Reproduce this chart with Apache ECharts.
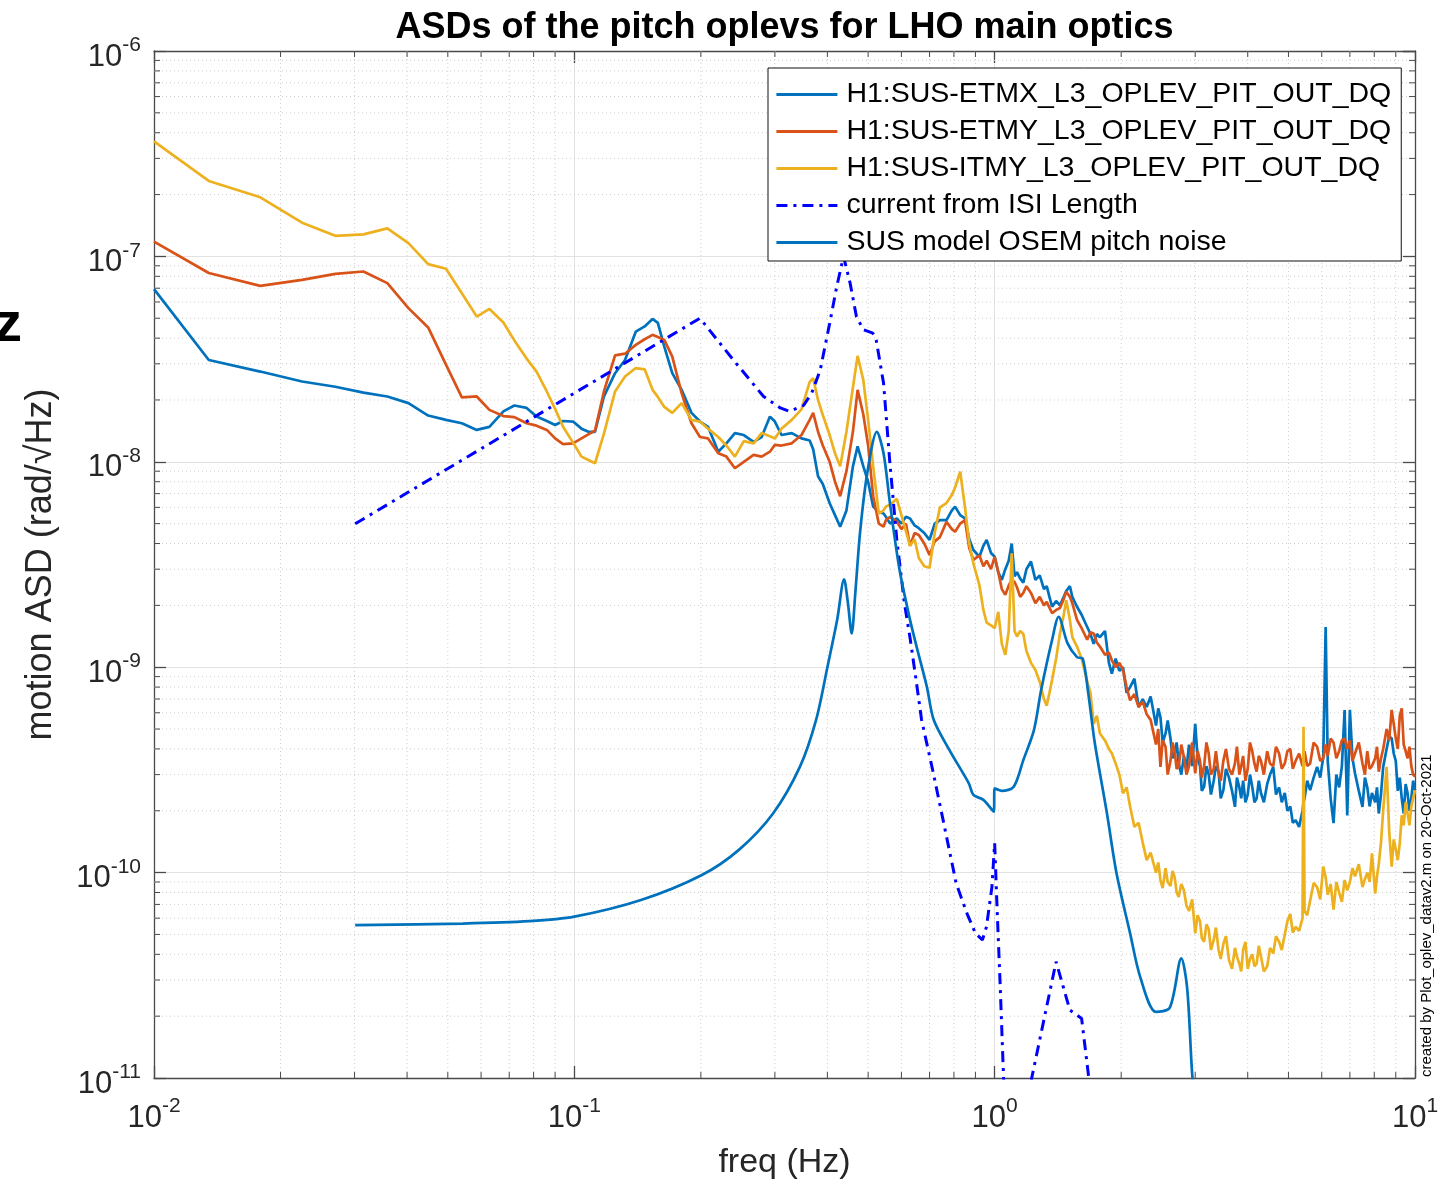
<!DOCTYPE html>
<html>
<head>
<meta charset="utf-8">
<script src="https://cdn.jsdelivr.net/npm/echarts@6/dist/echarts.min.js"></script>
<style>
html,body{margin:0;padding:0;background:#fff;}
#chart{width:1449px;height:1182px;}
</style>
</head>
<body>
<div id="chart"></div>
<script>
// ---------------- DATA ----------------
const seriesNames = [
  'H1:SUS-ETMX_L3_OPLEV_PIT_OUT_DQ',
  'H1:SUS-ETMY_L3_OPLEV_PIT_OUT_DQ',
  'H1:SUS-ITMY_L3_OPLEV_PIT_OUT_DQ',
  'current from ISI Length',
  'SUS model OSEM pitch noise'
];

// common frequency bins (Hz) of the three oplev spectra
const freqHz = [
  0.0100, 0.0135, 0.0179, 0.0225, 0.0270, 0.0315, 0.0359, 0.0403, 0.0449, 0.0495,
  0.0540, 0.0586, 0.0628, 0.0678, 0.0720, 0.0770, 0.0813, 0.0860, 0.0900, 0.0940,
  0.0993, 0.1040, 0.1080, 0.1120, 0.1176, 0.1250, 0.1320, 0.1400, 0.1470, 0.1535,
  0.1580, 0.1637, 0.1710, 0.1800, 0.1900, 0.1990, 0.2080, 0.2200, 0.2300, 0.2410,
  0.2530, 0.2670, 0.2790, 0.2920, 0.3000, 0.3110, 0.3290, 0.3470, 0.3630, 0.3700,
  0.3800, 0.3900, 0.4050, 0.4170, 0.4290, 0.4440, 0.4600, 0.4720, 0.4870, 0.5000,
  0.5140, 0.5300, 0.5440, 0.5510, 0.5640, 0.5850, 0.6000, 0.6150, 0.6290, 0.6450,
  0.6600, 0.6800, 0.7000, 0.7200, 0.7410, 0.7680, 0.7910, 0.8050, 0.8280, 0.8500,
  0.8700, 0.8900, 0.9200, 0.9400, 0.9570, 0.9800, 1.0000, 1.0200, 1.0400, 1.0600,
  1.0800, 1.0980, 1.1150, 1.1300, 1.1500, 1.1700, 1.1900, 1.2200, 1.2500, 1.2800,
  1.3100, 1.3300, 1.3500, 1.3700, 1.4000, 1.4300, 1.4600, 1.4800, 1.5100, 1.5300,
  1.5700, 1.6100, 1.6600, 1.6900, 1.7200, 1.7500, 1.7800, 1.8300, 1.8700, 1.9000,
  1.9400, 1.9800, 2.0200, 2.0600, 2.1000, 2.1500, 2.2000, 2.2500, 2.3000, 2.3500,
  2.42, 2.45, 2.48, 2.51, 2.55, 2.58, 2.62, 2.65, 2.68, 2.71,
  2.74, 2.78, 2.82, 2.86, 2.90, 2.95, 3.00, 3.04, 3.08, 3.11,
  3.15, 3.19, 3.23, 3.27, 3.32, 3.36, 3.41, 3.45, 3.50, 3.55,
  3.61, 3.67, 3.73, 3.77, 3.82, 3.86, 3.90, 3.95, 4.00, 4.05,
  4.10, 4.15, 4.20, 4.25, 4.30, 4.37, 4.45, 4.52, 4.60, 4.67,
  4.75, 4.82, 4.90, 4.97, 5.05, 5.12, 5.20, 5.30, 5.40, 5.43,
  5.46, 5.54, 5.63, 5.74, 5.85, 5.95, 6.05, 6.13, 6.20, 6.30,
  6.40, 6.50, 6.60, 6.70, 6.80, 6.90, 7.00, 7.10, 7.20, 7.35,
  7.50, 7.60, 7.70, 7.80, 7.90, 8.04, 8.12, 8.20, 8.30, 8.40,
  8.56, 8.68, 8.80, 8.90, 9.00, 9.10, 9.20, 9.30, 9.40, 9.50,
  9.60, 9.70, 9.80, 9.90, 10.0
];

// rad/sqrt(Hz)
const etmxAsd = [
  6.93e-8, 3.13e-8, 2.75e-8, 2.46e-8, 2.32e-8, 2.17e-8, 2.08e-8, 1.93e-8, 1.68e-8, 1.60e-8,
  1.54e-8, 1.43e-8, 1.48e-8, 1.76e-8, 1.88e-8, 1.83e-8, 1.66e-8, 1.58e-8, 1.51e-8, 1.58e-8,
  1.57e-8, 1.45e-8, 1.40e-8, 1.40e-8, 2.08e-8, 2.70e-8, 3.13e-8, 4.30e-8, 4.56e-8, 4.96e-8,
  4.75e-8, 3.64e-8, 2.70e-8, 2.24e-8, 1.73e-8, 1.57e-8, 1.48e-8, 1.12e-8, 1.23e-8, 1.38e-8,
  1.35e-8, 1.25e-8, 1.32e-8, 1.66e-8, 1.57e-8, 1.35e-8, 1.38e-8, 1.30e-8, 1.27e-8, 1.15e-8,
  8.5e-9, 7.8e-9, 6.28e-9, 5.5e-9, 4.83e-9, 5.8e-9, 9.5e-9, 1.19e-8, 9.5e-9, 8.0e-9,
  6.05e-9, 5.7e-9, 5.6e-9, 5.4e-9, 5.0e-9, 5.3e-9, 5.0e-9, 5.4e-9, 5.3e-9, 4.9e-9,
  4.75e-9, 4.5e-9, 4.17e-9, 5.0e-9, 5.2e-9, 5.2e-9, 5.8e-9, 6.05e-9, 5.5e-9, 5.3e-9,
  4.2e-9, 3.72e-9, 3.45e-9, 3.9e-9, 4.17e-9, 3.6e-9, 3.45e-9, 2.9e-9, 2.66e-9, 3.0e-9,
  3.3e-9, 4.0e-9, 2.77e-9, 2.9e-9, 2.7e-9, 2.58e-9, 3.0e-9, 3.27e-9, 2.66e-9, 2.8e-9,
  2.4e-9, 2.48e-9, 2.2e-9, 1.97e-9, 2.1e-9, 2.0e-9, 2.2e-9, 2.35e-9, 2.48e-9, 2.2e-9,
  1.97e-9, 1.8e-9, 1.57e-9, 1.45e-9, 1.3e-9, 1.45e-9, 1.4e-9, 1.5e-9, 1.05e-9, 9.3e-10,
  1.1e-9, 9.6e-10, 1.0e-9, 7.5e-10, 8.0e-10, 8.8e-10, 6.4e-10, 7.0e-10, 6.4e-10, 7.2e-10,
  5.2e-10, 6.3e-10, 5.7e-10, 4.3e-10, 4.76e-10, 5.5e-10, 4.5e-10, 3.6e-10, 3.8e-10, 4.3e-10,
  3.4e-10, 3.0e-10, 3.7e-10, 3.2e-10, 4.2e-10, 3.3e-10, 5.3e-10, 3.6e-10, 3.3e-10, 2.5e-10,
  2.62e-10, 3.3e-10, 3.0e-10, 2.4e-10, 2.8e-10, 3.3e-10, 3.1e-10, 2.3e-10, 2.52e-10, 3.2e-10,
  2.9e-10, 2.5e-10, 2.09e-10, 2.9e-10, 2.6e-10, 2.3e-10, 2.8e-10, 2.2e-10, 2.4e-10, 3.0e-10,
  2.62e-10, 2.2e-10, 2.3e-10, 2.8e-10, 2.44e-10, 2.2e-10, 2.7e-10, 3.0e-10, 3.27e-10, 2.4e-10,
  2.6e-10, 2.2e-10, 2.44e-10, 2.0e-10, 2.1e-10, 1.75e-10, 1.8e-10, 1.67e-10, 2.0e-10, 2.2e-10,
  2.3e-10, 2.8e-10, 2.52e-10, 2.9e-10, 3.27e-10, 2.9e-10, 3.66e-10, 1.57e-9, 3.5e-10, 2.3e-10,
  1.74e-10, 3.0e-10, 2.6e-10, 3.3e-10, 6.18e-10, 1.9e-10, 6.2e-10, 3.6e-10, 3.04e-10, 2.5e-10,
  2.09e-10, 2.9e-10, 2.6e-10, 2.1e-10, 2.44e-10, 2.2e-10, 2.6e-10, 1.94e-10, 2.4e-10, 3.27e-10,
  4.0e-10, 4.6e-10, 4.5e-10, 3.8e-10, 3.5e-10, 2.5e-10, 2.9e-10, 2.3e-10, 1.94e-10, 2.7e-10,
  2.44e-10, 2.0e-10, 2.3e-10, 2.8e-10, 2.52e-10
];

const etmyAsd = [
  1.18e-7, 8.3e-8, 7.19e-8, 7.69e-8, 8.22e-8, 8.44e-8, 7.41e-8, 5.6e-8, 4.51e-8, 2.97e-8,
  2.06e-8, 2.08e-8, 1.79e-8, 1.67e-8, 1.65e-8, 1.54e-8, 1.50e-8, 1.43e-8, 1.30e-8, 1.22e-8,
  1.23e-8, 1.30e-8, 1.36e-8, 1.42e-8, 2.2e-8, 3.3e-8, 3.36e-8, 3.71e-8, 3.95e-8, 4.15e-8,
  4.05e-8, 3.92e-8, 3.25e-8, 2.16e-8, 1.54e-8, 1.32e-8, 1.30e-8, 1.10e-8, 1.06e-8, 9.3e-9,
  1.0e-8, 1.08e-8, 1.06e-8, 1.12e-8, 1.21e-8, 1.2e-8, 1.23e-8, 1.35e-8, 1.6e-8, 1.73e-8,
  1.4e-8, 1.2e-8, 1.0e-8, 8.0e-9, 6.8e-9, 9.0e-9, 1.4e-8, 2.24e-8, 1.7e-8, 1.2e-8,
  6.8e-9, 5.0e-9, 4.83e-9, 5.2e-9, 5.4e-9, 5.12e-9, 4.7e-9, 5.0e-9, 3.9e-9, 4.5e-9,
  4.4e-9, 4.0e-9, 3.52e-9, 4.1e-9, 4.3e-9, 5.1e-9, 4.7e-9, 4.57e-9, 5.0e-9, 5.2e-9,
  3.8e-9, 3.33e-9, 3.5e-9, 3.1e-9, 3.3e-9, 3.0e-9, 3.45e-9, 2.9e-9, 2.4e-9, 2.25e-9,
  2.5e-9, 2.66e-9, 2.6e-9, 2.45e-9, 2.2e-9, 2.3e-9, 2.48e-9, 2.3e-9, 2.05e-9, 2.2e-9,
  2.0e-9, 2.08e-9, 1.95e-9, 1.83e-9, 1.9e-9, 1.94e-9, 2.15e-9, 2.33e-9, 2.2e-9, 2.05e-9,
  1.7e-9, 1.55e-9, 1.36e-9, 1.48e-9, 1.46e-9, 1.32e-9, 1.26e-9, 1.15e-9, 1.18e-9, 1.08e-9,
  1.0e-9, 1.05e-9, 9.7e-10, 8.0e-10, 6.9e-10, 7.4e-10, 6.4e-10, 6.8e-10, 5.9e-10, 5.54e-10,
  4.2e-10, 5.0e-10, 3.27e-10, 4.4e-10, 4.1e-10, 3.0e-10, 3.5e-10, 4.3e-10, 3.9e-10, 3.2e-10,
  3.27e-10, 4.2e-10, 3.66e-10, 3.0e-10, 3.3e-10, 4.3e-10, 3.04e-10, 3.9e-10, 3.5e-10, 2.9e-10,
  3.3e-10, 4.3e-10, 3.81e-10, 3.0e-10, 3.2e-10, 3.9e-10, 3.04e-10, 2.8e-10, 3.5e-10, 4.0e-10,
  3.2e-10, 3.0e-10, 3.4e-10, 4.1e-10, 3.0e-10, 3.3e-10, 3.7e-10, 2.8e-10, 3.2e-10, 4.3e-10,
  3.9e-10, 3.4e-10, 3.1e-10, 3.7e-10, 3.5e-10, 3.0e-10, 3.9e-10, 3.4e-10, 3.3e-10, 4.1e-10,
  3.8e-10, 3.2e-10, 3.4e-10, 3.9e-10, 4.0e-10, 3.2e-10, 3.5e-10, 3.8e-10, 3.3e-10, 3.6e-10,
  3.9e-10, 3.3e-10, 3.4e-10, 4.3e-10, 4.1e-10, 3.5e-10, 3.6e-10, 4.2e-10, 3.7e-10, 4.5e-10,
  4.3e-10, 3.6e-10, 3.9e-10, 4.4e-10, 4.5e-10, 4.0e-10, 4.4e-10, 3.5e-10, 3.8e-10, 4.3e-10,
  3.4e-10, 3.0e-10, 3.9e-10, 3.2e-10, 3.3e-10, 3.6e-10, 4.1e-10, 3.1e-10, 3.6e-10, 4.0e-10,
  5.0e-10, 4.4e-10, 6.2e-10, 5.3e-10, 4.5e-10, 4.0e-10, 5.8e-10, 6.3e-10, 4.2e-10, 3.9e-10,
  3.6e-10, 4.1e-10, 3.3e-10, 3.0e-10, 2.93e-10
];

const itmyAsd = [
  3.63e-7, 2.33e-7, 1.94e-7, 1.46e-7, 1.26e-7, 1.28e-7, 1.37e-7, 1.16e-7, 9.17e-8, 8.71e-8,
  6.62e-8, 5.09e-8, 5.55e-8, 4.77e-8, 3.9e-8, 3.18e-8, 2.75e-8, 2.2e-8, 1.81e-8, 1.48e-8,
  1.24e-8, 1.06e-8, 1.02e-8, 9.84e-9, 1.37e-8, 2.2e-8, 2.6e-8, 2.86e-8, 2.82e-8, 2.24e-8,
  2.07e-8, 1.85e-8, 1.73e-8, 1.93e-8, 1.6e-8, 1.57e-8, 1.45e-8, 1.32e-8, 1.2e-8, 1.06e-8,
  1.26e-8, 1.23e-8, 1.38e-8, 1.33e-8, 1.30e-8, 1.45e-8, 1.6e-8, 1.8e-8, 2.45e-8, 2.55e-8,
  2.0e-8, 1.69e-8, 1.35e-8, 1.1e-8, 9.5e-9, 1.4e-8, 2.3e-8, 3.28e-8, 2.5e-8, 1.6e-8,
  9.5e-9, 5.6e-9, 5.8e-9, 6.05e-9, 6.2e-9, 6.6e-9, 5.5e-9, 4.6e-9, 3.9e-9, 4.2e-9,
  3.4e-9, 3.1e-9, 3.05e-9, 4.5e-9, 6.0e-9, 6.3e-9, 6.9e-9, 7.5e-9, 8.95e-9, 6.0e-9,
  4.0e-9, 3.2e-9, 2.5e-9, 1.9e-9, 1.65e-9, 1.6e-9, 1.55e-9, 1.86e-9, 1.3e-9, 1.15e-9,
  1.5e-9, 3.59e-9, 1.5e-9, 1.41e-9, 1.5e-9, 1.45e-9, 1.2e-9, 1.05e-9, 9.7e-10, 8.5e-10,
  7.0e-10, 6.5e-10, 7.5e-10, 8.7e-10, 1.1e-9, 1.46e-9, 1.8e-9, 2.12e-9, 1.7e-9, 1.4e-9,
  1.26e-9, 1.1e-9, 8.5e-10, 7.5e-10, 5.3e-10, 5.8e-10, 4.76e-10, 4.4e-10, 4.0e-10, 3.81e-10,
  3.4e-10, 3.0e-10, 2.43e-10, 2.6e-10, 2.1e-10, 1.67e-10, 1.75e-10, 1.4e-10, 1.15e-10, 1.25e-10,
  1.0e-10, 1.12e-10, 9.2e-11, 8.4e-11, 1.05e-10, 9.0e-11, 8.6e-11, 1.02e-10, 9.5e-11, 8.0e-11,
  7.6e-11, 8.8e-11, 8.2e-11, 6.9e-11, 6.5e-11, 7.4e-11, 5.06e-11, 6.2e-11, 5.8e-11, 4.8e-11,
  4.6e-11, 5.6e-11, 5.3e-11, 4.2e-11, 4.7e-11, 5.4e-11, 4.2e-11, 3.8e-11, 4.5e-11, 4.9e-11,
  3.75e-11, 3.4e-11, 4.3e-11, 3.9e-11, 3.6e-11, 3.3e-11, 4.2e-11, 4.6e-11, 3.4e-11, 3.8e-11,
  4.0e-11, 3.5e-11, 3.6e-11, 4.4e-11, 3.9e-11, 3.3e-11, 3.5e-11, 4.3e-11, 4.04e-11, 4.9e-11,
  4.6e-11, 4.2e-11, 5.0e-11, 5.8e-11, 6.3e-11, 5.1e-11, 5.44e-11, 5.2e-11, 6.0e-11, 5.13e-10,
  6.5e-11, 6.2e-11, 7.3e-11, 8.9e-11, 8.5e-11, 7.4e-11, 1.07e-10, 9.5e-11, 7.8e-11, 8.8e-11,
  6.6e-11, 9.0e-11, 8.0e-11, 7.2e-11, 9.2e-11, 8.2e-11, 9.0e-11, 1.05e-10, 9.6e-11, 1.1e-10,
  8.5e-11, 9.3e-11, 1.0e-10, 9.0e-11, 1.24e-10, 7.9e-11, 9.6e-11, 1.1e-10, 1.4e-10, 2.0e-10,
  3.27e-10, 1.6e-10, 1.07e-10, 1.45e-10, 1.3e-10, 1.15e-10, 1.39e-10, 1.9e-10, 1.7e-10, 2.2e-10,
  1.94e-10, 1.7e-10, 2.1e-10, 2.3e-10, 2.52e-10
];

const isiFreq = [
  0.0301, 0.199, 0.239, 0.282, 0.309, 0.325, 0.351, 0.367, 0.3845, 0.405,
  0.421, 0.437, 0.453, 0.469, 0.487, 0.513, 0.5225, 0.544, 0.563, 0.585,
  0.61, 0.63, 0.65, 0.67, 0.712, 0.754, 0.81, 0.86, 0.90, 0.935,
  0.956, 0.985, 1.0, 1.013, 1.031, 1.05, 1.1, 1.225, 1.40, 1.51,
  1.61, 1.67, 1.75
];
const isiAsd = [
  4.99e-9, 5.0e-8, 3.13e-8, 2.08e-8, 1.83e-8, 1.76e-8, 1.88e-8, 2.16e-8, 2.79e-8, 4.72e-8,
  7.13e-8, 1.0e-7, 7.41e-8, 5.09e-8, 4.4e-8, 4.23e-8, 3.92e-8, 2.42e-8, 1.0e-8, 4.17e-9,
  2.05e-9, 1.36e-9, 8.7e-10, 5.55e-10, 3.16e-10, 1.8e-10, 8.85e-11, 6.3e-11, 5.06e-11, 4.7e-11,
  5.44e-11, 8.5e-11, 1.39e-10, 6.8e-11, 2.78e-11, 1.0e-11, 2.0e-12, 1.0e-11, 3.68e-11, 2.14e-11,
  1.95e-11, 1.05e-11, 3.0e-12
];

const susFreq = [
  0.0301, 0.0543, 0.0782, 0.1, 0.1441, 0.2006, 0.2463, 0.297, 0.344, 0.376,
  0.40, 0.422, 0.4383, 0.447, 0.457, 0.466, 0.479, 0.499, 0.5245, 0.544,
  0.5635, 0.594, 0.629, 0.652, 0.69, 0.716, 0.78, 0.868, 0.89, 0.94,
  0.995, 1.0, 1.04, 1.11, 1.17, 1.24, 1.29, 1.37, 1.42, 1.49,
  1.57, 1.62, 1.67, 1.73, 1.85, 1.95, 2.1, 2.22, 2.42, 2.61,
  2.78, 2.87, 2.95, 3.1
];
const susAsd = [
  5.55e-11, 5.65e-11, 5.8e-11, 6.1e-11, 7.35e-11, 9.7e-11, 1.29e-10, 1.94e-10, 3.27e-10, 5.54e-10,
  1.0e-9, 1.7e-9, 2.68e-9, 2.1e-9, 1.46e-9, 2.29e-9, 4.66e-9, 9.14e-9, 1.4e-8, 1.1e-8,
  6.28e-9, 2.97e-9, 1.7e-9, 1.26e-9, 8.0e-10, 5.55e-10, 3.96e-10, 2.72e-10, 2.39e-10, 2.26e-10,
  1.98e-10, 2.57e-10, 2.5e-10, 2.62e-10, 3.53e-10, 4.94e-10, 7.74e-10, 1.36e-9, 1.76e-9, 1.31e-9,
  1.12e-9, 1.1e-9, 7.46e-10, 4.3e-10, 1.94e-10, 9.9e-11, 5.06e-11, 3.1e-11, 2.1e-11, 2.2e-11,
  3.82e-11, 2.75e-11, 1.05e-11, 3.0e-12
];

// axis ranges and minor tick values
const xRange = [0.01, 10];
const yRange = [1e-11, 1e-6];
const xMinorTicks = [
  0.02, 0.03, 0.04, 0.05, 0.06, 0.07, 0.08, 0.09,
  0.2, 0.3, 0.4, 0.5, 0.6, 0.7, 0.8, 0.9,
  2, 3, 4, 5, 6, 7, 8, 9
];
const yMinorTicks = [
  2e-11, 3e-11, 4e-11, 5e-11, 6e-11, 7e-11, 8e-11, 9e-11,
  2e-10, 3e-10, 4e-10, 5e-10, 6e-10, 7e-10, 8e-10, 9e-10,
  2e-9, 3e-9, 4e-9, 5e-9, 6e-9, 7e-9, 8e-9, 9e-9,
  2e-8, 3e-8, 4e-8, 5e-8, 6e-8, 7e-8, 8e-8, 9e-8,
  2e-7, 3e-7, 4e-7, 5e-7, 6e-7, 7e-7, 8e-7, 9e-7
];

const titleText = 'ASDs of the pitch oplevs for LHO main optics';
const xName = 'freq (Hz)';
const yName = 'motion ASD (rad/\u221AHz)';
const footText = 'created by Plot_oplev_datav2.m on 20-Oct-2021';

// ---------------- CHART ----------------
const FONT = "'Liberation Sans', Arial, Helvetica, sans-serif";
const AXIS_COLOR = '#4a4a4a';
const LINE_W = 2.7;
const chart = echarts.init(document.getElementById('chart'), null, { renderer: 'canvas' });

function powLabel(v) {
  const e = Math.round(Math.log10(v));
  return '{b|10}{s|' + e + '}';
}
const labelRich = {
  b: { fontSize: 31, fontFamily: FONT, color: '#262626', lineHeight: 44 },
  s: { fontSize: 21, fontFamily: FONT, color: '#262626', lineHeight: 22, verticalAlign: 'top' }
};

function baseAxis(range, position, showLabel, margin) {
  return {
    type: 'log', logBase: 10, min: range[0], max: range[1], position: position,
    axisLine: { show: true, onZero: false, lineStyle: { color: AXIS_COLOR, width: 1.3 } },
    axisTick: { show: true, inside: true, length: 12, lineStyle: { color: AXIS_COLOR, width: 1.3 } },
    axisLabel: {
      show: showLabel, margin: margin, formatter: powLabel, rich: labelRich,
      showMinLabel: true, showMaxLabel: true, hideOverlap: false
    },
    splitLine: { show: showLabel, lineStyle: { color: '#e2e2e2', width: 1 } },
    minorTick: { show: false }, minorSplitLine: { show: false }
  };
}

const xAxes = [baseAxis(xRange, 'bottom', true, 18), baseAxis(xRange, 'top', false, 8)];
const yAxes = [baseAxis(yRange, 'left', true, 13), baseAxis(yRange, 'right', false, 8)];
yAxes[0].axisLabel.padding = [12, 0, 0, 0];

function renderXMinor(params, api) {
  const cs = params.coordSys;
  const x = api.coord([api.value(0), 1e-8])[0];
  const top = cs.y, bot = cs.y + cs.height;
  return {
    type: 'group', children: [
      { type: 'line', shape: { x1: x, y1: top, x2: x, y2: bot }, style: { stroke: '#cfcfcf', lineWidth: 1, lineDash: [1, 3] } },
      { type: 'line', shape: { x1: x, y1: bot, x2: x, y2: bot - 6 }, style: { stroke: AXIS_COLOR, lineWidth: 1 } },
      { type: 'line', shape: { x1: x, y1: top, x2: x, y2: top + 6 }, style: { stroke: AXIS_COLOR, lineWidth: 1 } }
    ]
  };
}
function renderYMinor(params, api) {
  const cs = params.coordSys;
  const y = api.coord([0.1, api.value(1)])[1];
  const left = cs.x, right = cs.x + cs.width;
  return {
    type: 'group', children: [
      { type: 'line', shape: { x1: left, y1: y, x2: right, y2: y }, style: { stroke: '#cfcfcf', lineWidth: 1, lineDash: [1, 3] } },
      { type: 'line', shape: { x1: left, y1: y, x2: left + 6, y2: y }, style: { stroke: AXIS_COLOR, lineWidth: 1 } },
      { type: 'line', shape: { x1: right, y1: y, x2: right - 6, y2: y }, style: { stroke: AXIS_COLOR, lineWidth: 1 } }
    ]
  };
}

function pairs(xs, ys) { return xs.map((f, i) => [f, ys[i]]); }

function lineSeries(name, data, color, extra) {
  return Object.assign({
    name: name, type: 'line', data: data, symbol: 'none', showSymbol: false,
    clip: true, z: 3, emphasis: { disabled: true },
    lineStyle: { color: color, width: LINE_W }, itemStyle: { color: color }
  }, extra || {});
}

const option = {
  animation: false,
  backgroundColor: '#ffffff',
  grid: { left: 154, right: 34, top: 51, bottom: 104, containLabel: false },
  xAxis: xAxes,
  yAxis: yAxes,
  legend: {
    data: seriesNames,
    orient: 'vertical', left: 768, top: 68,
    padding: [12, 10, 4, 7],
    itemWidth: 61, itemHeight: 14, itemGap: 8,
    backgroundColor: '#ffffff', borderColor: '#111', borderWidth: 1, borderRadius: 0,
    selectedMode: false,
    itemStyle: { color: 'rgba(0,0,0,0)', borderWidth: 0, opacity: 0 },
    lineStyle: { width: 2.8 },
    textStyle: { fontSize: 28.5, fontFamily: FONT, color: '#000', lineHeight: 28, padding: [0, 0, 0, 4] }
  },
  graphic: [
    { type: 'text', x: 784.5, y: 28, silent: true,
      style: { text: titleText, font: 'bold 36px ' + FONT, fill: '#000', align: 'center', verticalAlign: 'middle' } },
    { type: 'text', x: 784.5, y: 1163, silent: true,
      style: { text: xName, font: '34px ' + FONT, fill: '#262626', align: 'center', verticalAlign: 'middle' } },
    { type: 'text', x: 41, y: 564.5, rotation: Math.PI / 2, silent: true,
      style: { text: yName, font: '36px ' + FONT, fill: '#262626', align: 'center', verticalAlign: 'middle' } },
    { type: 'text', x: 1427, y: 1077, rotation: Math.PI / 2, silent: true,
      style: { text: footText, font: '15px ' + FONT, fill: '#000', align: 'left', verticalAlign: 'middle' } },
    { type: 'text', x: 22, y: 326, silent: true,
      style: { text: 'z', font: 'bold 56px ' + FONT, fill: '#000', align: 'right', verticalAlign: 'middle' } }
  ],
  series: [
    { type: 'custom', name: 'xMinorGrid', silent: true, z: 1, xAxisIndex: 0, yAxisIndex: 0,
      data: xMinorTicks.map(v => [v, 1e-8]), renderItem: renderXMinor },
    { type: 'custom', name: 'yMinorGrid', silent: true, z: 1, xAxisIndex: 0, yAxisIndex: 0,
      data: yMinorTicks.map(v => [0.1, v]), renderItem: renderYMinor },
    lineSeries(seriesNames[0], pairs(freqHz, etmxAsd), '#0072BD'),
    lineSeries(seriesNames[1], pairs(freqHz, etmyAsd), '#D95319'),
    lineSeries(seriesNames[2], pairs(freqHz, itmyAsd), '#EDB120'),
    lineSeries(seriesNames[3], pairs(isiFreq, isiAsd), '#0000FF',
      { lineStyle: { color: '#0000FF', width: 3, type: [11, 6, 3, 6] } }),
    lineSeries(seriesNames[4], pairs(susFreq, susAsd), '#0072BD',
      { smooth: 0.3 })
  ]
};
chart.setOption(option);
</script>
</body>
</html>
